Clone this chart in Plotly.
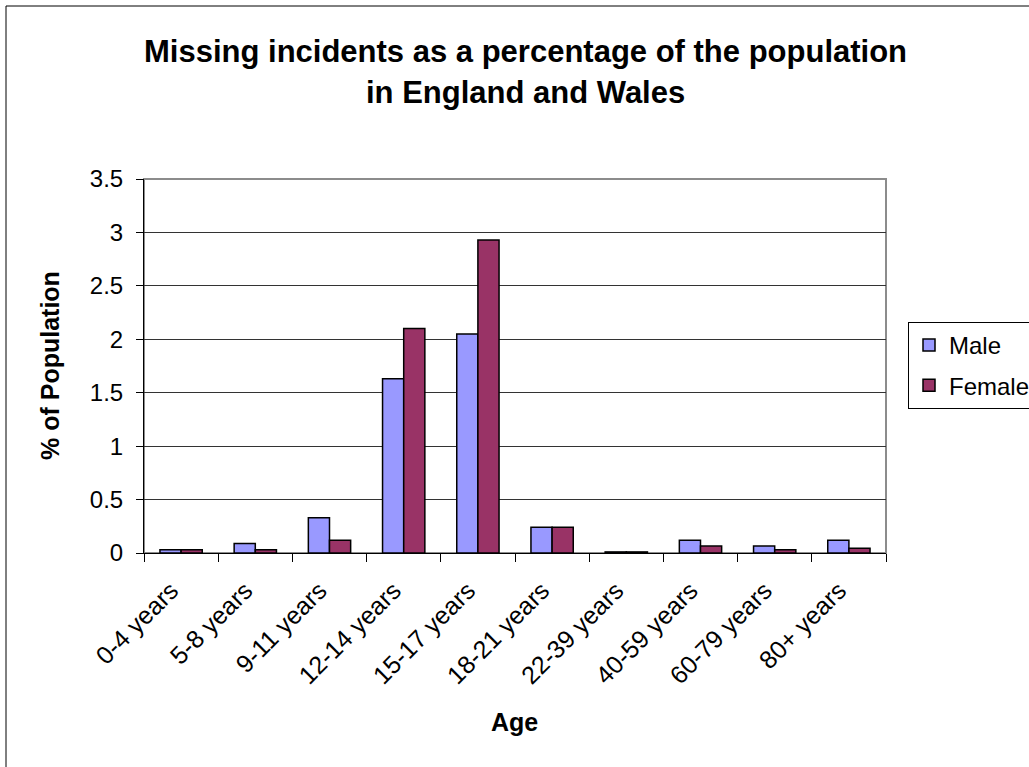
import plotly.graph_objects as go

# Missing incidents per age band, as % of population
age_bands = ["0-4 years", "5-8 years", "9-11 years", "12-14 years", "15-17 years",
             "18-21 years", "22-39 years", "40-59 years", "60-79 years", "80+ years"]
male_pct = [0.03, 0.09, 0.33, 1.63, 2.05, 0.24, 0.01, 0.12, 0.065, 0.12]
female_pct = [0.03, 0.03, 0.12, 2.10, 2.93, 0.24, 0.01, 0.065, 0.03, 0.045]
y_ticks = [0, 0.5, 1, 1.5, 2, 2.5, 3, 3.5]
y_tick_text = ["0", "0.5", "1", "1.5", "2", "2.5", "3", "3.5"]

W, H = 1029, 767
L, R, T, B = 144, 143, 179, 214
pw, ph = W - L - R, H - T - B

def px_x(x):
    return (x - L) / pw

def px_y(y):
    return (H - B - y) / ph

FONT = "Liberation Sans, Arial, sans-serif"

fig = go.Figure()
fig.add_trace(go.Bar(x=age_bands, y=male_pct, name="Male", legendgroup="m",
                     marker=dict(color="#9999FF", line=dict(color="black", width=1.5))))
fig.add_trace(go.Bar(x=age_bands, y=female_pct, name="Female", legendgroup="f",
                     marker=dict(color="#993366", line=dict(color="black", width=1.5))))

fig.update_layout(
    width=W, height=H,
    margin=dict(l=L, r=R, t=T, b=B, autoexpand=False),
    paper_bgcolor="white", plot_bgcolor="white",
    font=dict(family=FONT, size=24, color="black"),
    barmode="group", bargap=0.43, bargroupgap=0,
    showlegend=True,
    legend=dict(x=px_x(908), y=px_y(322), xanchor="left", yanchor="top",
                bordercolor="black", borderwidth=1, bgcolor="white",
                font=dict(family=FONT, size=24), tracegroupgap=6,
                itemwidth=30),
    xaxis=dict(type="category", tickson="boundaries", ticks="outside", ticklen=8,
               tickcolor="black", showline=True, linecolor="black", linewidth=1,
               showgrid=False, tickangle=-45, tickfont=dict(family=FONT, size=25),
               ticklabelstandoff=12, ticklabelshift=-10),
    yaxis=dict(range=[0, 3.5], tickvals=y_ticks, ticktext=y_tick_text, ticks="outside",
               ticklen=7, tickcolor="black", showline=True, linecolor="black", linewidth=1,
               showgrid=True, gridcolor="#333333", gridwidth=1, zeroline=False,
               tickfont=dict(family=FONT, size=24), ticklabelstandoff=8),
    annotations=[
        dict(text="<b>Missing incidents as a percentage of the population</b>",
             xref="paper", yref="paper", x=px_x(525), y=px_y(52),
             xanchor="center", yanchor="middle", showarrow=False,
             font=dict(family=FONT, size=31)),
        dict(text="<b>in England and Wales</b>",
             xref="paper", yref="paper", x=px_x(525), y=px_y(93),
             xanchor="center", yanchor="middle", showarrow=False,
             font=dict(family=FONT, size=31)),
        dict(text="<b>% of Population</b>", textangle=-90,
             xref="paper", yref="paper", x=px_x(50), y=px_y(366),
             xanchor="center", yanchor="middle", showarrow=False,
             font=dict(family=FONT, size=25)),
        dict(text="<b>Age</b>",
             xref="paper", yref="paper", x=px_x(514), y=px_y(722),
             xanchor="center", yanchor="middle", showarrow=False,
             font=dict(family=FONT, size=25)),
    ],
    shapes=[
        # plot area frame (top and right)
        dict(type="rect", xref="paper", yref="paper", x0=0, x1=1, y0=0, y1=1,
             line=dict(color="#8c8c8c", width=2), fillcolor="rgba(0,0,0,0)", layer="below"),
        # outer chart border
        dict(type="rect", xref="paper", yref="paper",
             x0=px_x(6), x1=px_x(1040), y0=px_y(780), y1=px_y(6),
             line=dict(color="black", width=1), fillcolor="rgba(0,0,0,0)"),
    ],
)

fig.write_html("out.html")
